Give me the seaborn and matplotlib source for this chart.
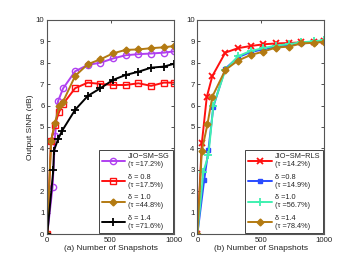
import matplotlib
matplotlib.use("Agg")
import matplotlib.pyplot as plt
import seaborn as sns
import pandas as pd

sns.set_style("white")
plt.rcParams['font.family'] = ['Liberation Sans', 'DejaVu Sans']

# ---- Panel (a) data ----
a_labels = ["JIO\u2212SM\u2212SG\n(\u03c4 =17.2%)", "\u03b4 = 0.8\n(\u03c4 =17.5%)",
            "\u03b4 = 1.0\n(\u03c4 =44.8%)", "\u03b4 = 1.4\n(\u03c4 =71.6%)"]
tail_x = [220, 320, 420, 520, 620, 720, 820, 920, 1000]
a_sg_x = [0, 42, 62, 85, 125] + tail_x
a_sg_y = [0, 2.2, 4.6, 6.2, 6.8, 7.6, 7.9, 8.0, 8.2, 8.35, 8.4, 8.43, 8.47, 8.53]
a_d08_x = [0, 30, 58, 95, 122] + tail_x
a_d08_y = [0, 4.35, 5.1, 5.72, 6.05, 6.81, 7.07, 7.01, 6.96, 6.96, 7.04, 6.92, 7.07, 7.07]
a_d10_x = [0, 30, 60, 95, 122] + tail_x
a_d10_y = [0, 4.35, 5.17, 5.98, 6.15, 7.38, 7.93, 8.16, 8.44, 8.6, 8.62, 8.68, 8.72, 8.78]
a_d14_x = [0, 48, 53, 87, 118] + tail_x
a_d14_y = [0, 3.0, 3.9, 4.45, 4.83, 5.8, 6.45, 6.81, 7.2, 7.43, 7.58, 7.77, 7.82, 7.95]

# ---- Panel (b) data ----
b_labels = ["JIO\u2212SM\u2212RLS\n(\u03c4 =14.2%)", "\u03b4 =0.8\n(\u03c4 =14.9%)",
            "\u03b4 =1.0\n(\u03c4 =56.7%)", "\u03b4 =1.4\n(\u03c4 =78.4%)"]
b_rls_x = [0, 35, 74, 118] + tail_x
b_rls_y = [0, 4.24, 6.4, 7.38, 8.47, 8.68, 8.78, 8.86, 8.9, 8.92, 8.95, 8.98, 9.0]
b_d08_x = [0, 53, 87, 126] + tail_x
b_d08_y = [0, 2.5, 3.93, 5.95, 7.72, 8.25, 8.5, 8.62, 8.75, 8.82, 8.9, 8.95, 9.0]
b_d10_x = [0, 47, 87, 126] + tail_x
b_d10_y = [0, 2.9, 3.69, 6.0, 7.65, 8.3, 8.55, 8.68, 8.8, 8.87, 8.95, 9.0, 9.05]
b_d14_x = [0, 35, 79, 118] + tail_x
b_d14_y = [0, 3.89, 5.12, 6.42, 7.66, 8.1, 8.36, 8.52, 8.71, 8.75, 8.9, 8.93, 8.98]

x_ticks = [0, 500, 1000]
y_ticks = list(range(0, 11))

fig = plt.figure(figsize=(3.5, 2.64), dpi=100)
axA = fig.add_axes([0.135, 0.1136, 0.362, 0.811])
axB = fig.add_axes([0.564, 0.1136, 0.362, 0.811])

fs = 5.6

def draw(ax, xs, ys, label, color, marker, mfc, ms, mew=1.0):
    sns.lineplot(x=xs, y=ys, ax=ax, color=color, lw=1.4, marker=marker,
                 markersize=ms, markerfacecolor=mfc, markeredgecolor=color,
                 markeredgewidth=mew, label=label, sort=False, estimator=None)

purple = '#b040f0'
red = '#ff1010'
brown = '#b37a12'
blue = '#2a4cff'
cyan = '#40f0b0'

draw(axA, a_sg_x, a_sg_y, a_labels[0], purple, 'o', 'none', 4.5)
draw(axA, a_d08_x, a_d08_y, a_labels[1], red, 's', 'none', 4.5)
draw(axA, a_d10_x, a_d10_y, a_labels[2], brown, 'D', brown, 3.5)
draw(axA, a_d14_x, a_d14_y, a_labels[3], 'black', '+', 'black', 6, 1.3)

draw(axB, b_rls_x, b_rls_y, b_labels[0], red, 'x', red, 4, 1.3)
draw(axB, b_d08_x, b_d08_y, b_labels[1], blue, 's', blue, 3)
draw(axB, b_d10_x, b_d10_y, b_labels[2], cyan, '+', cyan, 6, 1.3)
draw(axB, b_d14_x, b_d14_y, b_labels[3], brown, 'D', brown, 3.5)

for ax, xl in [(axA, "(a) Number of Snapshots"), (axB, "(b) Number of Snapshots")]:
    ax.set_xlim(0, 1000)
    ax.set_ylim(0, 10)
    ax.set_xticks(x_ticks)
    ax.set_yticks(y_ticks)
    ax.tick_params(direction='in', length=2, width=0.6, labelsize=fs, pad=2,
                   top=True, right=True, bottom=True, left=True, colors='#333333',
                   labelcolor='#222222')
    for s in ax.spines.values():
        s.set_color('#555555')
        s.set_linewidth(0.8)
    ax.set_xlabel(xl, fontsize=fs + 0.4, labelpad=1, color='#222222')
    leg = ax.legend(loc='lower right', fontsize=fs - 0.3, frameon=True, fancybox=False,
                    edgecolor='#444444', framealpha=1, handlelength=3.2,
                    borderpad=0.4, labelspacing=0.75, handletextpad=0.4,
                    borderaxespad=0.15)
    leg.get_frame().set_linewidth(0.7)

axA.set_ylabel("Output SINR (dB)", fontsize=fs + 0.4, labelpad=1, color='#222222')
axB.set_ylabel("")

fig.savefig("out.png", dpi=100)
